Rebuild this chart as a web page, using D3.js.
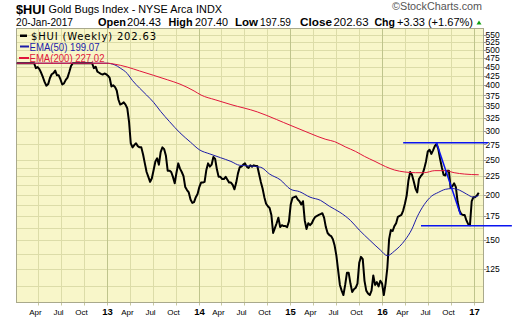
<!DOCTYPE html>
<html><head><meta charset="utf-8">
<script src="https://cdn.jsdelivr.net/npm/d3@7"></script>
<style>body{margin:0;background:#fff}svg{display:block}</style>
</head><body><svg id="c" width="520" height="318"></svg>
<script>
// ---- data (weekly closes from 2012-01-06, clipped at chart ceiling as shown) ----
const firstWeek = "2012-01-06";
const hui = [
460,460,460,460,460,460,460,460,460,460,460,
446,449,443,433,421,408,399,403,419,429,
432,439,426,426,415,402,405,414,420,435,
452,460,
460,460,460,460,460,460,460,460,460,460,460,
446,450,436,433,430,428,431,429,425,419,
397,400,396,387,365,354,356,359,354,346,
318,277,270,274,277,272,270,270,258,244,
231,224,217,222,234,247,252,242,262,270,
267,256,233,233,231,224,215,230,244,236,
231,225,210,206,203,194,190,191,197,201,
210,216,216,217,234,244,239,242,254,251,
235,224,224,221,221,224,220,216,216,213,
207,216,229,238,239,242,244,239,237,241,
239,241,240,240,228,217,208,197,189,186,
184,176,157,162,167,173,163,165,164,164,
163,169,188,196,197,198,194,192,188,192,
170,161,167,165,167,171,174,175,176,177,
178,173,163,157,155,154,151,145,136,124,
113,109,106,113,122,122,114,108,110,111,
114,130,135,133,116,109,107,106,109,120,
113,115,112,116,114,106,114,126,151,160,
159,164,167,174,175,176,181,189,199,219,
231,227,218,208,203,221,225,228,236,247,
263,266,259,265,272,276,267,251,238,227,
226,233,233,209,211,215,210,191,181,177,
176,176,170,166,165,192,197,197,199.30,202.63
];
const ema50Week = [0,51,56,59,63,66,70,74,78,82,87,93,99,104,110,116,122,127,133,139,144,150,156,161,167,173,178,184,190,195,201,207,211,215,221,225,228,232,236,240,244,248,252,256,260,263];
const ema50Val  = [460,460,455,446,431,412,393,376,359,339,318,296,279,266,259,253,247,241,240,238,228,220,207,204,197,193,186,179,170,160,150,141,136,140,150,161,174,188,198,203,207,208,206,201,197,199.07];
const ema200Week = [0,52,55,63,70,78,86,93,101,105,113,122,137,142,148,152,159,167,176,181,187,193,198,204,210,215,221,227,232,238,244,249,255,263];
const ema200Val  = [460,460,458,449,438,426,414,403,386,376,365,354,338,331,322,316,306,295,284,280,271,263,255,247,239,234,231,230,230,233,233,230,228,227.02];
// user-drawn annotation lines [date1, value1, date2, value2]
const annotations = [
  ["2016-03-25", 278, "2017-02-26", 278],
  ["2016-06-04", 164.5, "2017-06-01", 164.5],
  ["2016-08-05", 277.5, "2016-11-09", 176]
];
const yTickLabels = [550,525,500,475,450,425,400,375,350,325,300,275,250,225,200,175,150,125];
const yGridValues = [550,525,500,475,450,425,400,375,350,325,300,275,250,237.5,225,212.5,200,187.5,175,162.5,150,137.5,125,112.5];
const xTickDates = ["2012-04-01","2012-07-01","2012-10-01","2013-01-01","2013-04-01","2013-07-01","2013-10-01","2014-01-01","2014-04-01","2014-07-01","2014-10-01","2015-01-01","2015-04-01","2015-07-01","2015-10-01","2016-01-01","2016-04-01","2016-07-01","2016-10-01","2017-01-01"];
const xTickLabels = ["Apr","Jul","Oct","13","Apr","Jul","Oct","14","Apr","Jul","Oct","15","Apr","Jul","Oct","16","Apr","Jul","Oct","17"];

// ---- drawing ----
const svg = d3.select("#c");
const parse = d3.timeParse("%Y-%m-%d");
const w0 = parse(firstWeek);
const dates = hui.map((_, i) => d3.timeDay.offset(w0, 7 * i));
const L = 16.5, T = 28.5, R = 483.5, B = 302.5;
const x = d3.scaleTime().domain([new Date(2012,0,1), new Date(2017,1,6)]).range([15.3, 483]);
const y = d3.scaleLog().domain([125, 550]).range([269, 35]);

svg.append("rect").attr("x",0).attr("y",0).attr("width",520).attr("height",318).attr("fill","#fff");
svg.append("rect").attr("x",L).attr("y",T).attr("width",R-L).attr("height",B-T).attr("fill","#F8F6C9");

const grid = svg.append("g");
yGridValues.forEach(v => {
  const yy = Math.round(y(v)) + 0.5;
  if (yy > T + 1 && yy < B - 1)
    grid.append("line").attr("x1",L).attr("x2",R).attr("y1",yy).attr("y2",yy).attr("stroke","#DCDCA8").attr("stroke-width",1);
});
xTickDates.forEach((d, i) => {
  const xx = Math.round(x(parse(d))) + 0.5;
  const yr = /^\d+$/.test(xTickLabels[i]);
  grid.append("line").attr("x1",xx).attr("x2",xx).attr("y1",T).attr("y2",B)
    .attr("stroke", yr ? "#BFC48C" : "#DCDCA8").attr("stroke-width",1);
  grid.append("line").attr("x1",xx).attr("x2",xx).attr("y1",B).attr("y2",B+3).attr("stroke","#C8C8A0");
  svg.append("text").attr("x", xx - (yr ? 0 : 3)).attr("y", 314.5).attr("text-anchor","middle")
    .attr("font-family","Liberation Sans, Arial, sans-serif")
    .attr("font-size", yr ? 9.5 : 8).attr("font-weight", yr ? "bold" : "normal")
    .attr("fill","#000").text(xTickLabels[i]);
});

svg.append("rect").attr("x",L).attr("y",T).attr("width",R-L).attr("height",B-T)
  .attr("fill","none").attr("stroke","#A9A98C").attr("stroke-width",1);

// right axis
yTickLabels.forEach(v => {
  const yy = y(v);
  svg.append("line").attr("x1",R).attr("x2",R+3).attr("y1",Math.round(yy)+0.5).attr("y2",Math.round(yy)+0.5).attr("stroke","#999");
  svg.append("text").attr("x",485.5).attr("y",yy).attr("dy","0.36em")
    .attr("font-family","Liberation Sans, Arial, sans-serif").attr("font-size",8.5)
    .attr("fill","#000").text(v);
});

svg.append("defs").append("clipPath").attr("id","plot").append("rect")
  .attr("x",L).attr("y",T).attr("width",R-L).attr("height",B-T);
const plot = svg.append("g").attr("clip-path","url(#plot)");

const line = d3.line().x((d) => x(d[0])).y((d) => y(d[1]));
plot.append("path").datum(hui.map((v,i)=>[dates[i], v]))
  .attr("d", line).attr("fill","none").attr("stroke","#000").attr("stroke-width",2).attr("stroke-linejoin","round");
const smooth = d3.line().x(d => x(d[0])).y(d => y(d[1])).curve(d3.curveMonotoneX);
plot.append("path").datum(ema50Week.map((k,i)=>[dates[k], ema50Val[i]]))
  .attr("d", smooth).attr("fill","none").attr("stroke","#1C1CA8").attr("stroke-width",1);
plot.append("path").datum(ema200Week.map((k,i)=>[dates[k], ema200Val[i]]))
  .attr("d", smooth).attr("fill","none").attr("stroke","#E0163C").attr("stroke-width",1);

annotations.forEach(a => {
  svg.append("line").attr("x1",x(parse(a[0]))).attr("y1",y(a[1])).attr("x2",x(parse(a[2]))).attr("y2",y(a[3]))
    .attr("stroke","#0A14F0").attr("stroke-width",1.5);
});

// legend
const lg = svg.append("g").attr("font-family","Liberation Sans, Arial, sans-serif");
lg.append("rect").attr("x",20).attr("y",34.5).attr("width",7).attr("height",2.5).attr("fill","#000");
lg.append("text").attr("x",31).attr("y",39.5).attr("font-family","DejaVu Sans, Verdana, sans-serif").attr("font-size",10)
  .attr("textLength",125).attr("lengthAdjust","spacing").attr("fill","#000").text("$HUI (Weekly) " + hui[hui.length-1].toFixed(2));
lg.append("rect").attr("x",20).attr("y",45.5).attr("width",9).attr("height",2).attr("fill","#1C1CA8");
lg.append("text").attr("x",29.5).attr("y",50.6).attr("font-size",10).attr("textLength",70).attr("lengthAdjust","spacingAndGlyphs")
  .attr("fill","#1C1CA8").text("EMA(50) " + ema50Val[ema50Val.length-1].toFixed(2));
lg.append("rect").attr("x",19).attr("y",57).attr("width",10).attr("height",2).attr("fill","#E0163C");
lg.append("text").attr("x",29.5).attr("y",61.8).attr("font-size",10).attr("textLength",75).attr("lengthAdjust","spacingAndGlyphs")
  .attr("fill","#E0163C").text("EMA(200) " + ema200Val[ema200Val.length-1].toFixed(2));

// header
const hd = svg.append("g").attr("font-family","Liberation Sans, Arial, sans-serif").attr("fill","#000");
function ht(t, x0, yb, w, size, bold, col) {
  hd.append("text").attr("x",x0).attr("y",yb).attr("font-size",size).attr("font-weight",bold?"bold":"normal")
    .attr("textLength",w).attr("lengthAdjust","spacingAndGlyphs").attr("fill",col||"#000").text(t);
}
ht("$HUI", 16, 13.5, 29, 13, true);
ht("Gold Bugs Index - NYSE Arca", 48.5, 12.8, 144, 11, false);
ht("INDX", 196, 12.8, 26, 10, false);
ht("20-Jan-2017", 16, 25.8, 57, 10.5, false);
ht("Open", 98, 25.8, 28, 11, true);
ht("204.43", 127, 25.8, 34, 11, false);
ht("High", 168.5, 25.8, 24, 11, true);
ht("207.40", 195, 25.8, 33, 11, false);
ht("Low", 235, 25.8, 23, 11, true);
ht("197.59", 260, 25.8, 31, 11, false);
ht("Close", 300, 25.8, 32, 11, true);
ht("202.63", 333.5, 25.8, 35, 11, false);
ht("Chg", 374.5, 25.8, 20.5, 11, true);
ht("+3.33 (+1.67%)", 397, 25.8, 76, 11, false);
hd.append("path").attr("d","M476.5,24.5 L479,20.5 L481.5,24.5 Z").attr("fill","#12A012");
ht("\u00A9StockCharts.com", 392, 10, 90, 10, false, "#555");
</script></body></html>
